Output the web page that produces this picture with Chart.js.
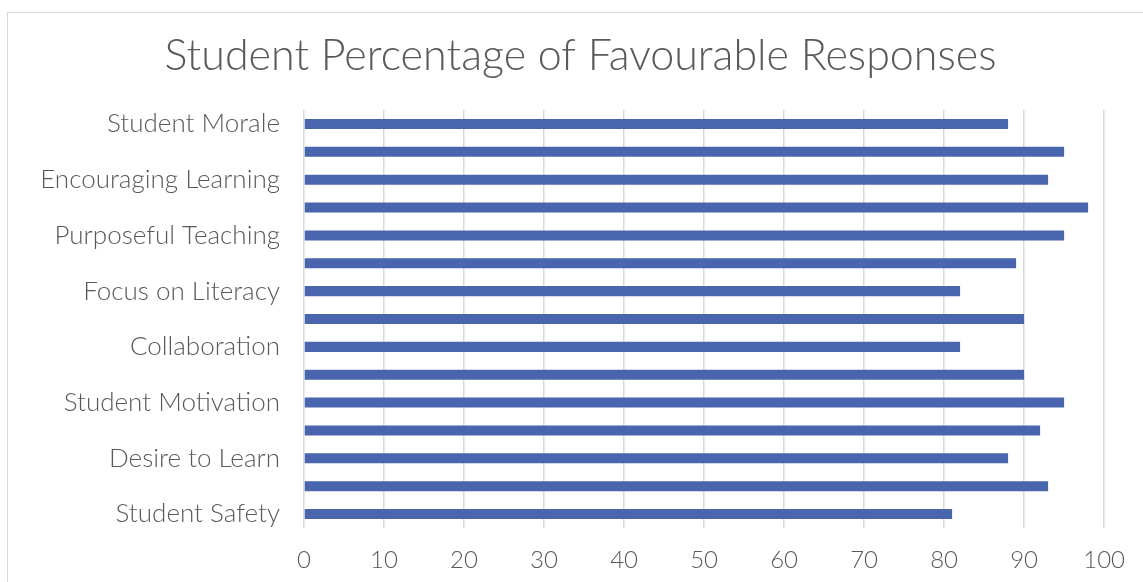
<!DOCTYPE html>
<html>
<head>
<meta charset="utf-8">
<script src="https://cdn.jsdelivr.net/npm/chart.js@4"></script>
<style>
  html, body { margin: 0; padding: 0; background: #fff; overflow: hidden; }
  #frame {
    position: absolute; left: 7px; top: 12px; width: 1200px; height: 700px;
    border-top: 1.5px solid #d9d9d9; border-left: 1.5px solid #d9d9d9;
  }
  #wrap { position: absolute; left: 0; top: 0; width: 1143px; height: 582px; }
</style>
</head>
<body>
<div id="frame"></div>
<div id="wrap"><canvas id="chart"></canvas></div>
<script>
// chart data
const chartTitle = "Student Percentage of Favourable Responses";
// only every other category label is shown in the source chart
const categories = [
    "Student Morale", "", "Encouraging Learning", "", "Purposeful Teaching", "",
    "Focus on Literacy", "", "Collaboration", "", "Student Motivation", "",
    "Desire to Learn", "", "Student Safety"
];
const favourable = [88, 95, 93, 98, 95, 89, 82, 90, 82, 90, 95, 92, 88, 93, 81];
const xTicks = [0, 10, 20, 30, 40, 50, 60, 70, 80, 90, 100];

const textColor = "#595959";
const fontFamily = "Lato, 'Open Sans', sans-serif";

// title is centred on the chart frame, not on the canvas, so draw it here
const frameTitle = {
    id: "frameTitle",
    afterDraw(chart) {
        const ctx = chart.ctx;
        ctx.save();
        ctx.fillStyle = textColor;
        ctx.font = "300 43px " + fontFamily;
        ctx.textAlign = "center";
        ctx.textBaseline = "middle";
        ctx.fillText(chartTitle, 580.5, 56);
        ctx.restore();
    }
};

new Chart(document.getElementById("chart"), {
    type: "bar",
    data: {
        labels: categories,
        datasets: [{
            label: "Favourable",
            data: favourable,
            backgroundColor: "#4865ad",
            categoryPercentage: 1,
            barPercentage: 0.36
        }]
    },
    plugins: [frameTitle],
    options: {
        indexAxis: "y",
        responsive: true,
        maintainAspectRatio: false,
        animation: false,
        layout: { padding: { left: 0, right: 36.5, top: 110, bottom: 0 } },
        plugins: {
            legend: { display: false },
            tooltip: { enabled: false },
            title: { display: false }
        },
        scales: {
            x: {
                min: 0,
                max: 100,
                afterBuildTicks: scale => { scale.ticks = xTicks.map(v => ({ value: v })); },
                afterFit: scale => { scale.height = 54; },
                grid: { color: "#d9d9d9", lineWidth: 1.5, drawTicks: false },
                border: { display: false },
                ticks: {
                    color: textColor,
                    padding: 18,
                    font: { family: fontFamily, size: 24, weight: 300 }
                }
            },
            y: {
                afterFit: scale => { scale.width = 304; },
                grid: { display: false, drawTicks: false },
                border: { display: false },
                ticks: {
                    color: textColor,
                    padding: 24,
                    autoSkip: false,
                    font: { family: fontFamily, size: 26, weight: 300 }
                }
            }
        }
    }
});
</script>
</body>
</html>
